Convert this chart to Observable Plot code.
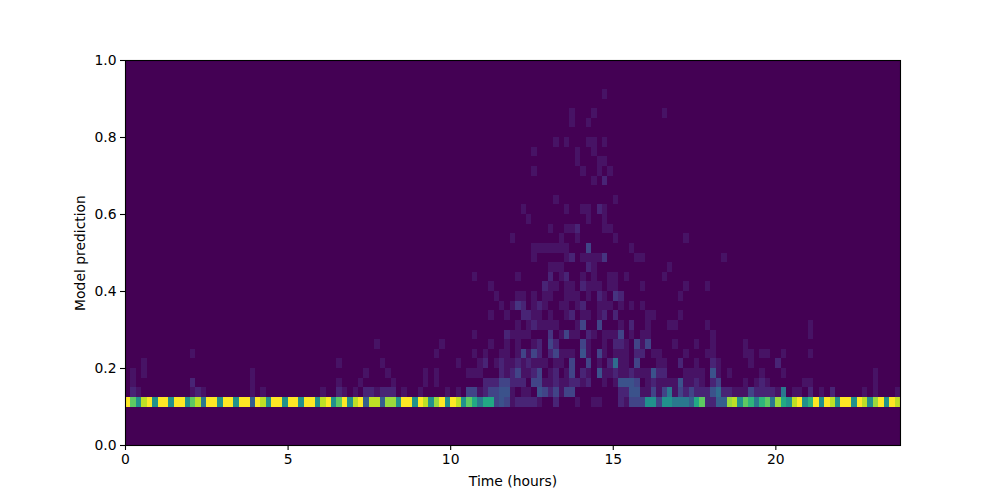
<!DOCTYPE html>
<html>
<head>
<meta charset="utf-8">
<script src="https://cdn.jsdelivr.net/npm/d3@7"></script>
<script src="https://cdn.jsdelivr.net/npm/@observablehq/plot@0.6"></script>
<style>
html,body{margin:0;padding:0;background:#fff;}
svg{display:block;}
</style>
</head>
<body>
<div id="chart"></div>
<script>
// Chart values: 10-minute time bins (index) by 0.025-wide prediction rows; each pair is [bin, count]
const binHours = 1 / 6;
const rowHeight = 0.025;
const xTicks = [0, 5, 10, 15, 20];
const yTicks = [0, 0.2, 0.4, 0.6, 0.8, 1];
const maxCount = 20;
const emptyColor = "#440154";

// row 4 (0.100-0.125): count for every bin 0..142
const baseRow = [20,15,10,18,20,10,20,20,10,20,20,10,15,18,8,20,20,10,20,20,10,20,20,6,20,18,10,20,20,10,20,20,10,20,20,10,18,20,10,15,20,10,18,20,6,18,18,6,17,17,10,
20,20,10,20,18,10,17,20,10,20,18,10,15,12,8,12,12,4,5,4,1,2,2,2,2,1,0,0,2,0,0,0,1,0,0,1,1,0,0,0,2,1,4,4,4,10,10,4,10,10,8,8,8,6,12,15,2,2,6,6,17,18,10,15,13,8,13,15,8,17,12,10,18,20,10,13,20,10,20,18,10,20,20,10,20,18,10,17,20,10,20,18];

const row5 = [[1,2],[2,1],[12,1],[13,2],[14,1],[23,1],[25,1],[36,1],[39,2],[40,1],[42,1],[44,2],[45,2],[46,1],[47,2],[48,2],[49,2],[51,1],[54,1],[59,1],[61,1],[63,4],[64,4],[65,1],[66,2],[67,4],[68,4],[69,5],[70,5],[71,1],[73,1],[74,1],[76,5],[77,4],[78,2],[79,4],[80,1],[81,4],[82,4],[91,2],[92,2],[93,5],[94,5],[95,1],[96,1],[97,4],[98,1],[99,4],[100,8],[101,1],[102,4],[103,2],[104,4],[105,2],[106,2],[107,2],[108,5],[109,7],[110,2],[111,2],[112,1],[113,1],[114,1],[115,4],[116,2],[117,2],[118,2],[119,2],[120,1],[121,8],[123,1],[124,1],[126,2],[128,1],[130,2],[136,1],[138,1],[142,1]];
const row6 = [[1,1],[12,2],[23,1],[39,1],[43,1],[49,1],[55,1],[57,1],[66,2],[67,2],[68,2],[69,4],[70,4],[71,2],[72,2],[73,2],[75,4],[76,4],[77,1],[78,1],[79,2],[80,1],[81,1],[82,2],[83,2],[84,1],[85,2],[88,1],[90,1],[91,5],[92,5],[93,5],[94,4],[96,1],[97,2],[98,1],[99,1],[100,1],[101,1],[102,5],[103,1],[104,1],[105,2],[106,1],[108,2],[109,4],[114,1],[116,1],[117,2],[118,1],[125,1],[126,1],[138,1]];
const row7 = [[1,1],[3,1],[23,1],[44,1],[48,1],[55,1],[57,1],[63,1],[64,1],[65,1],[69,2],[70,1],[71,2],[72,4],[73,1],[74,1],[75,2],[76,4],[78,1],[79,2],[81,1],[82,4],[84,2],[85,1],[87,5],[88,1],[89,1],[90,2],[91,1],[92,1],[93,2],[94,1],[95,1],[96,1],[97,5],[98,2],[99,2],[103,1],[104,1],[105,1],[106,1],[108,5],[109,1],[111,1],[117,1],[121,1],[138,1]];
const row8 = [[3,1],[39,1],[47,1],[61,1],[65,1],[66,2],[68,1],[69,2],[70,1],[71,1],[72,2],[73,1],[74,2],[75,1],[76,1],[77,1],[79,1],[80,1],[82,4],[85,4],[87,1],[89,2],[90,7],[91,1],[92,1],[94,4],[98,1],[99,1],[102,2],[105,1],[108,2],[109,1],[115,1],[120,2]];
const row9 = [[12,1],[57,1],[64,1],[66,1],[69,1],[70,1],[72,1],[73,4],[74,1],[75,4],[76,2],[78,2],[79,4],[80,1],[81,1],[82,1],[84,5],[85,1],[87,4],[88,1],[90,1],[91,1],[92,1],[94,2],[95,2],[97,1],[98,1],[103,1],[107,1],[108,1],[114,1],[115,1],[117,1],[118,1],[121,1],[126,1]];
const row10 = [[46,1],[58,1],[67,1],[70,1],[72,1],[75,1],[76,2],[78,4],[79,2],[84,4],[85,1],[88,1],[90,2],[91,2],[92,1],[94,4],[95,1],[96,4],[101,1],[105,1],[108,1],[114,1]];
const row11 = [[64,1],[70,2],[71,1],[72,1],[73,1],[74,1],[78,3],[80,1],[81,4],[82,1],[83,1],[85,2],[86,1],[88,1],[89,1],[90,1],[91,4],[93,1],[95,1],[96,1],[108,1],[126,1]];
const row12 = [[72,1],[74,1],[75,2],[76,1],[77,1],[78,1],[79,1],[83,1],[84,4],[87,4],[91,1],[93,2],[96,1],[100,1],[101,1],[107,1],[126,1]];
const row13 = [[67,1],[70,1],[73,2],[74,2],[75,1],[76,1],[78,1],[81,1],[82,2],[84,1],[85,1],[87,1],[88,2],[90,2],[96,1],[97,1],[102,1]];
const row14 = [[69,1],[71,1],[72,3],[73,2],[75,1],[76,2],[77,1],[80,1],[81,1],[83,1],[84,2],[87,1],[88,1],[89,1],[91,1],[93,1],[95,1]];
const row15 = [[68,1],[72,1],[73,1],[75,1],[77,1],[78,1],[81,1],[82,1],[83,1],[85,1],[87,2],[88,1],[90,3],[91,2],[102,1]];
const row16 = [[67,1],[77,2],[78,1],[79,1],[81,1],[82,1],[84,2],[85,1],[86,1],[87,1],[89,1],[90,1],[95,1],[103,1],[107,1]];
const row17 = [[64,1],[72,1],[78,2],[80,1],[81,2],[84,1],[86,1],[89,1],[90,1],[92,1],[99,1]];
const row18 = [[78,1],[79,1],[80,1],[85,2],[86,1],[100,1]];
const row19 = [[75,1],[81,1],[82,2],[84,1],[85,1],[86,1],[87,1],[88,3],[94,1],[95,1],[110,1]];
const row20 = [[75,1],[76,1],[77,1],[78,1],[79,1],[80,1],[81,1],[85,4],[93,1]];
const row21 = [[71,1],[80,1],[83,1],[90,1],[103,1]];
const row22 = [[78,1],[81,1],[82,1],[83,2],[88,1],[89,1]];
const row23 = [[74,1],[85,1],[88,1]];
const row24 = [[73,1],[81,1],[84,1],[85,1],[87,2],[88,1]];
const row25 = [[79,1],[90,1]];
const row27 = [[86,1],[88,2]];
const row28 = [[75,1],[84,1],[87,1],[89,1]];
const row29 = [[83,1],[87,1],[88,1]];
const row30 = [[75,1],[83,1],[86,1]];
const row31 = [[79,1],[81,1],[85,1],[86,1],[88,1]];
const row33 = [[82,1],[85,1]];
const row34 = [[82,1],[86,1],[99,1]];
const row36 = [[88,1]];

const sparseRows = [[5,row5],[6,row6],[7,row7],[8,row8],[9,row9],[10,row10],[11,row11],[12,row12],[13,row13],[14,row14],[15,row15],[16,row16],[17,row17],[18,row18],[19,row19],[20,row20],[21,row21],[22,row22],[23,row23],[24,row24],[25,row25],[27,row27],[28,row28],[29,row29],[30,row30],[31,row31],[33,row33],[34,row34],[36,row36]];

const cells = [];
baseRow.forEach((count, bin) => { if (count > 0) cells.push({bin, row: 4, count}); });
for (const [row, pairs] of sparseRows) {
  for (const [bin, count] of pairs) cells.push({bin, row, count});
}

const plot = Plot.plot({
  width: 1000,
  height: 500,
  marginLeft: 125,
  marginRight: 100,
  marginTop: 60,
  marginBottom: 55,
  style: {fontFamily: "'DejaVu Sans', sans-serif", fontSize: "13.9px", color: "#000", background: "#fff"},
  x: {domain: [0, 143 * binHours]},
  y: {domain: [0, 1]},
  color: {type: "linear", scheme: "viridis", domain: [0, maxCount]},
  marks: [
    Plot.frame({fill: emptyColor}),
    Plot.rect(cells, {
      x1: d => d.bin * binHours,
      x2: d => (d.bin + 1) * binHours,
      y1: d => d.row * rowHeight,
      y2: d => (d.row + 1) * rowHeight,
      fill: "count",
      shapeRendering: "crispEdges"
    }),
    Plot.frame({stroke: "#000", strokeWidth: 1.1}),
    Plot.axisX({
      ticks: xTicks, tickSize: 5, tickPadding: 4, tickFormat: d => String(d),
      label: "Time (hours)", labelAnchor: "center", labelArrow: "none", labelOffset: 40,
      stroke: "#000", fill: "#000", strokeWidth: 1.1, strokeOpacity: 1, fontSize: 13.9
    }),
    Plot.axisY({
      ticks: yTicks, tickSize: 5, tickPadding: 4, tickFormat: d3.format(".1f"),
      label: "Model prediction", labelAnchor: "center", labelArrow: "none", labelOffset: 50,
      stroke: "#000", fill: "#000", strokeWidth: 1.1, strokeOpacity: 1, fontSize: 13.9
    })
  ]
});
document.getElementById("chart").appendChild(plot);
</script>
</body>
</html>
